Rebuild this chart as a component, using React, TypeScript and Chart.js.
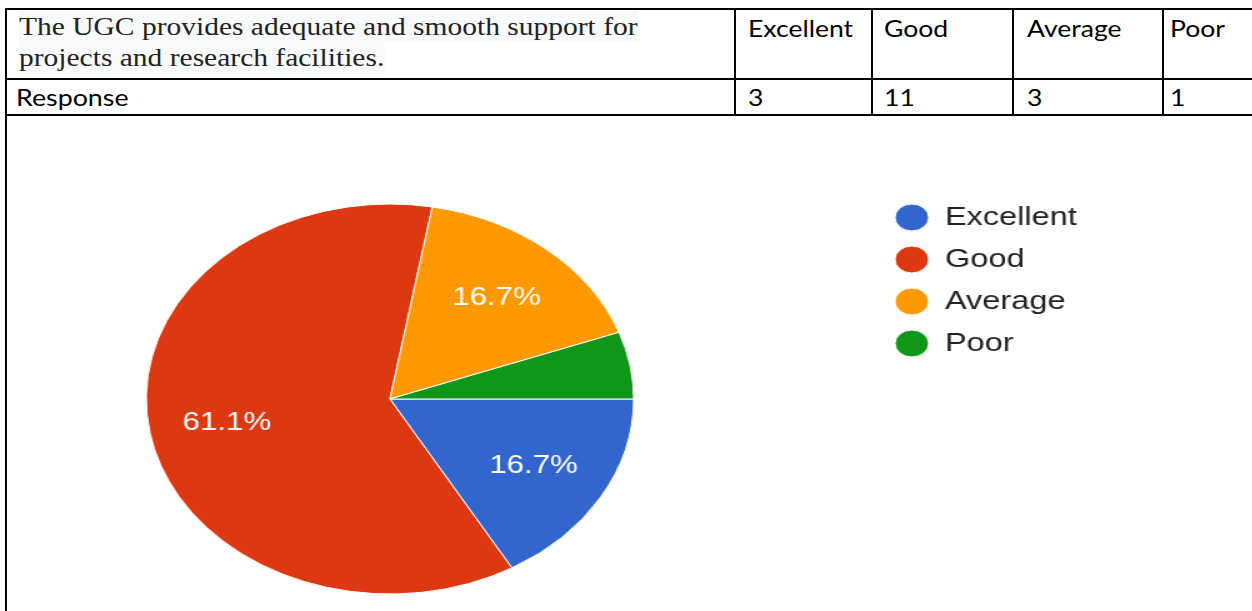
import React, { useEffect, useRef } from "react";
import { Chart, registerables } from "chart.js";

Chart.register(...registerables);

// ---- data ----
const questionLines = [
  "The UGC provides adequate and smooth support for",
  "projects and research facilities.",
];
const rowLabel = "Response";
const categories = ["Excellent", "Good", "Average", "Poor"];
const responses = [3, 11, 3, 1];
const sliceColors = ["#3366cc", "#dc3912", "#ff9900", "#109618"];

// table layout (page pixels)
const colTextLeft = [750, 885.7, 1029, 1171.7];
const colLines = [733.5, 871, 1012.3, 1162];

const SERIF = "'Liberation Serif', 'Times New Roman', serif";
const SANS = "Lato, 'Open Sans', sans-serif";
const ARIAL = "'Liberation Sans', Arial, sans-serif";

const sliceLabels = {
  id: "sliceLabels",
  afterDatasetsDraw(chart: any) {
    const { ctx } = chart;
    const meta = chart.getDatasetMeta(0);
    const data = chart.data.datasets[0].data as number[];
    const total = data.reduce((a, b) => a + b, 0);
    ctx.save();
    ctx.font = `25px ${ARIAL}`;
    ctx.fillStyle = "#ffffff";
    ctx.textAlign = "center";
    ctx.textBaseline = "middle";
    meta.data.forEach((arc: any, i: number) => {
      const pct = (data[i] / total) * 100;
      if (pct < 10) return;
      const p = arc.getProps(["x", "y", "startAngle", "endAngle", "outerRadius"], true);
      const mid = (p.startAngle + p.endAngle) / 2;
      const r = p.outerRadius * 0.68;
      ctx.fillText(pct.toFixed(1) + "%", p.x + Math.cos(mid) * r, p.y + Math.sin(mid) * r + 1);
    });
    ctx.restore();
  },
};

function HLine({ y, x1, x2 }: { y: number; x1: number; x2: number }) {
  return (
    <div
      style={{ position: "absolute", left: x1, top: y, width: x2 - x1, height: 2, background: "#000" }}
    />
  );
}
function VLine({ x, y1, y2 }: { x: number; y1: number; y2: number }) {
  return (
    <div
      style={{ position: "absolute", left: x, top: y1, width: 2, height: y2 - y1, background: "#000" }}
    />
  );
}

function Txt({
  left,
  top,
  size,
  family,
  color = "#000",
  sx = 1,
  bg,
  children,
}: {
  left: number;
  top: number;
  size: number;
  family: string;
  color?: string;
  sx?: number;
  bg?: string;
  children: React.ReactNode;
}) {
  return (
    <div
      style={{
        position: "absolute",
        left,
        top,
        fontFamily: family,
        fontSize: size,
        lineHeight: "31px",
        height: 31,
        color,
        whiteSpace: "nowrap",
        background: bg,
        transform: `scaleX(${sx})`,
        transformOrigin: "left top",
      }}
    >
      {children}
    </div>
  );
}

export default function App() {
  const ref = useRef<HTMLCanvasElement>(null);

  useEffect(() => {
    const chart = new Chart(ref.current as HTMLCanvasElement, {
      type: "pie",
      data: {
        labels: categories,
        datasets: [
          {
            data: responses,
            backgroundColor: sliceColors,
            borderColor: "#ffffff",
            borderWidth: 1,
          },
        ],
      },
      options: {
        responsive: false,
        animation: false,
        rotation: 90,
        radius: 195,
        layout: { padding: { left: 4, right: 128.5, top: 72.5, bottom: 1.5 } },
        plugins: {
          tooltip: { enabled: false },
          legend: {
            position: "right",
            align: "start",
            labels: {
              usePointStyle: true,
              pointStyle: "circle",
              pointStyleWidth: 27,
              boxHeight: 19,
              padding: 16,
              color: "#222222",
              font: { family: ARIAL, size: 26 },
            },
          },
        },
      },
      plugins: [sliceLabels],
    } as any);
    return () => chart.destroy();
  }, []);

  return (
    <div
      style={{
        position: "absolute",
        left: 0,
        top: 0,
        width: 1252,
        height: 611,
        overflow: "hidden",
        background: "#ffffff",
      }}
    >
      <canvas
        ref={ref}
        width={1080}
        height={495}
        style={{ position: "absolute", left: -100, top: 116, width: 1350, height: 495 }}
      />

      {/* question text */}
      {questionLines.map((line, i) => (
        <Txt key={i} left={19} top={11 + i * 30.5} size={25} family={SERIF} color="#222" sx={1.18} bg="#f8f9fa">
          {line}
        </Txt>
      ))}

      {/* header cells */}
      {categories.map((c, i) => (
        <Txt key={c} left={colTextLeft[i] - 2} top={13} size={23.5} family={SANS} sx={1.13}>
          {c}
        </Txt>
      ))}

      <Txt left={16} top={82} size={23.5} family={SANS} sx={1.14}>
        {rowLabel}
      </Txt>
      {responses.map((v, i) => (
        <Txt key={i} left={colTextLeft[i] - 2} top={82} size={23.5} family={SANS} sx={1.13}>
          {String(v)}
        </Txt>
      ))}

      {/* table borders */}
      <HLine y={8} x1={5} x2={1252} />
      <HLine y={78} x1={5} x2={1252} />
      <HLine y={114} x1={5} x2={1252} />
      <VLine x={5} y1={8} y2={611} />
      {colLines.map((x, i) => (
        <VLine key={i} x={x} y1={8} y2={116} />
      ))}
    </div>
  );
}
